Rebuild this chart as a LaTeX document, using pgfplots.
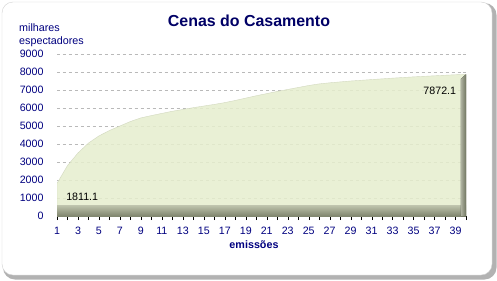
\documentclass[border=0pt]{standalone}
\usepackage{pgfplots}
\pgfplotsset{compat=1.18}
\usepackage{fontspec}
\setmainfont{Liberation Sans}
\definecolor{navy}{RGB}{0,0,128}
\definecolor{titlec}{RGB}{0,0,102}
\definecolor{areafill}{RGB}{230,238,206}
\definecolor{floorc}{RGB}{140,146,120}
\pgfplotstableread{
x y
1 1811.1
2 2800
3 3500
4 4050
5 4450
6 4750
7 5000
8 5250
9 5450
10 5580
11 5700
12 5820
13 5920
14 6020
15 6110
16 6200
17 6300
18 6420
19 6550
20 6680
21 6800
22 6920
23 7030
24 7140
25 7250
26 7340
27 7400
28 7450
29 7500
30 7540
31 7580
32 7620
33 7660
34 7695
35 7730
36 7760
37 7790
38 7820
39 7848
40 7872.1
}\audience
\begin{document}
\begin{tikzpicture}[x=1bp,y=1bp]
\path (0,0) rectangle (497,280);
\fill[gray!60, rounded corners=12bp] (3,0.5) rectangle (496.5,277);
\fill[white, rounded corners=11bp] (2,5) rectangle (492,278);
\draw[gray!35, rounded corners=11bp] (2,5) rectangle (492,278);
\node[font=\fontsize{16}{19}\selectfont\bfseries, text=titlec] at (249,259) {Cenas do Casamento};
\node[anchor=north west, align=left, inner sep=0pt, text=navy, font=\fontsize{10.8}{12.5}\selectfont] at (19,256) {milhares\\espectadores};
\node[font=\fontsize{10.8}{13}\selectfont\bfseries, text=navy] at (254,35) {emissões};
\begin{axis}[
  at={(57bp,64bp)}, anchor=south west,
  scale only axis, width=409bp, height=162bp,
  xmin=1, xmax=40, ymin=0, ymax=9000,
  axis x line=bottom, axis y line=left,
  x axis line style={-, black},
  y axis line style={draw=none},
  xtick={1,3,...,39}, minor xtick={2,4,...,40},
  ytick={0,1000,...,9000},
  ytick style={draw=none},
  xtick style={black}, minor tick style={black},
  tick align=outside,
  major tick length=4bp, minor tick length=4bp,
  ymajorgrids, grid style={dashed, gray!55, line width=0.5pt},
  /pgf/number format/assume math mode=true,
  /pgf/number format/1000 sep={},
  ticklabel style={font=\fontsize{10.7}{12}\selectfont, text=navy},
  xticklabel style={yshift=-4bp},
  yticklabel style={xshift=-6bp},
]
\addplot[fill=areafill, fill opacity=0.85, draw=areafill!80!gray] table {\audience} \closedcycle;
\fill[top color=areafill!80!gray, bottom color=floorc, opacity=0.9] (axis cs:1,0) rectangle (axis cs:40,600);
\fill[left color=floorc!70!white, right color=floorc!80!black] (axis cs:39.5,0) -- (axis cs:40,0) -- (axis cs:40,7872.1) -- (axis cs:39.5,7600) -- cycle;
\node[font=\fontsize{10.7}{12}\selectfont] at (axis cs:3.4,1055) {1811.1};
\node[font=\fontsize{10.7}{12}\selectfont] at (axis cs:37.5,6944) {7872.1};
\end{axis}
\end{tikzpicture}
\end{document}
